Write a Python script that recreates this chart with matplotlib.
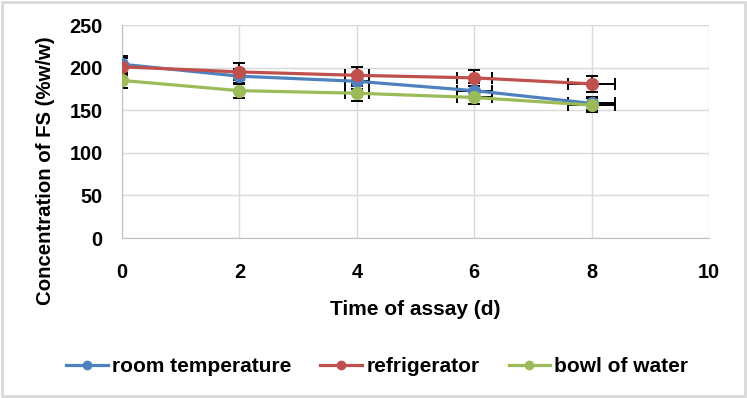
import matplotlib.pyplot as plt
from matplotlib.patches import Rectangle
from matplotlib.lines import Line2D

plt.rcParams['font.family'] = ['Liberation Sans', 'DejaVu Sans']
plt.rcParams['font.weight'] = 'bold'

# data
days = [0, 2, 4, 6, 8]
room_temp = [204, 190, 184, 173, 158]
fridge = [201, 195, 191, 188, 181]
water = [185, 173, 170, 165, 156]
day_err = [0, 0, 0.2, 0.3, 0.4]
room_err = [10, 9, 9, 9, 8]
fridge_err = [10, 10, 10, 9, 9]
water_err = [9, 9, 9, 8, 8]

names = ['room temperature', 'refrigerator', 'bowl of water']
colors = ['#4F81BD', '#C0504D', '#9BBB59']

fig = plt.figure(figsize=(7.47, 3.98), dpi=100)
ax = fig.add_axes([0.1633, 0.402, 0.786, 0.535])

series = [room_temp, fridge, water]
errs = [room_err, fridge_err, water_err]
# error bars sit behind the lines, like in excel
for vals, err in zip(series, errs):
    ax.errorbar(days, vals, yerr=err, xerr=day_err, fmt='none', ecolor='black',
                elinewidth=1.4, capsize=4, capthick=1.4, zorder=2)
for vals, c in zip(series, colors):
    ax.plot(days, vals, color=c, lw=2.3, marker='o', ms=8.5, zorder=3)

ax.set_xlim(0, 10)
ax.set_ylim(0, 250)
ax.set_xticks([0, 2, 4, 6, 8, 10])
ax.set_yticks([0, 50, 100, 150, 200, 250])
ax.grid(True, color='#d9d9d9', lw=1)
ax.set_axisbelow(True)
for s in ['top', 'right']:
    ax.spines[s].set_visible(False)
for s in ['left', 'bottom']:
    ax.spines[s].set_color('#bfbfbf')
ax.tick_params(length=0, labelsize=14.3)
ax.tick_params(axis='y', pad=14)
ax.tick_params(axis='x', pad=18)
for lab in ax.get_xticklabels() + ax.get_yticklabels():
    lab.set_fontweight('bold')

ax.set_xlabel('Time of assay (d)', fontsize=15, fontweight='bold', va='center')
ax.xaxis.set_label_coords(0.5, -0.338)
ax.set_ylabel('Concentration of FS (%w/w)', fontsize=14.7, fontweight='bold', va='center')
ax.yaxis.set_label_coords(-0.131, 0.315)

handles = [Line2D([], [], color=c, lw=2.3, marker='o', ms=6) for c in colors]
fig.legend(handles, names, loc='center', bbox_to_anchor=(0.505, 0.078), ncol=3,
           frameon=False, prop={'weight': 'bold', 'size': 15},
           handlelength=2.0, handletextpad=0.2, columnspacing=1.4)

fig.patches.append(Rectangle((0.003, 0.004), 0.994, 0.99, transform=fig.transFigure,
                             fill=False, edgecolor='#d9d9d9', lw=2))

fig.savefig('out.png', dpi=100)
